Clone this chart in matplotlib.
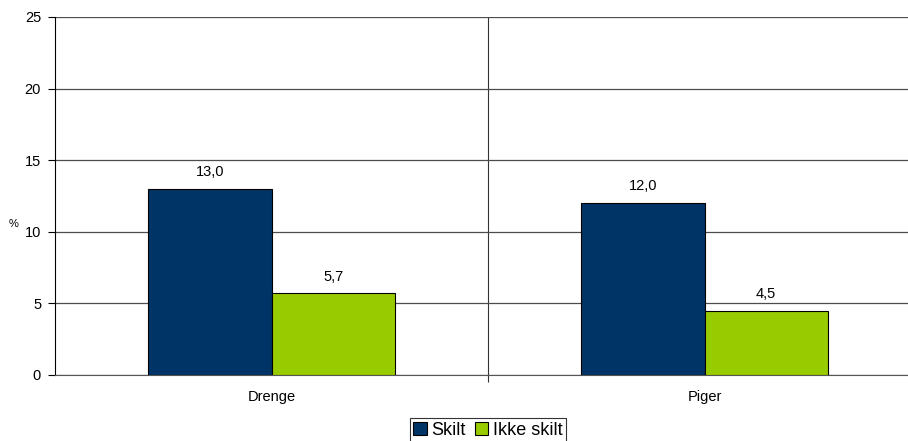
import matplotlib
matplotlib.use('Agg')
import matplotlib.pyplot as plt
import numpy as np

categories = ['Drenge', 'Piger']
series = ['Skilt', 'Ikke skilt']
skilt = [13.0, 12.0]
ikke_skilt = [5.7, 4.5]
colors = ['#003366', '#99cc00']

plt.rcParams['font.family'] = ['Liberation Sans', 'DejaVu Sans']

fig = plt.figure(figsize=(9.08, 4.41), dpi=100)
# plot area runs past the right edge, like the reference
ax = fig.add_axes([55 / 908, 66 / 441, 866 / 908, 358 / 441])

x = np.arange(len(categories))
w = 0.285
b1 = ax.bar(x - w / 2, skilt, w, color=colors[0], edgecolor='black', linewidth=0.8, label=series[0], zorder=3)
b2 = ax.bar(x + w / 2, ikke_skilt, w, color=colors[1], edgecolor='black', linewidth=0.8, label=series[1], zorder=3)

for bars in (b1, b2):
    for r in bars:
        h = r.get_height()
        ax.annotate(f'{h:.1f}'.replace('.', ','), (r.get_x() + r.get_width() / 2, h),
                    xytext=(0, 7), textcoords='offset points', ha='center', va='bottom', fontsize=10.5)

ax.set_xlim(-0.5, 1.5)
ax.set_ylim(0, 25)
ax.set_yticks(np.arange(0, 26, 5))
ax.yaxis.grid(True, color='#4d4d4d', linewidth=0.9, zorder=0)
ax.axvline(0.5, color='#333333', linewidth=0.8, zorder=1)

ax.set_xticks([0.5])
ax.set_xticklabels([])
ax.set_xticks(x, minor=True)
ax.set_xticklabels(categories, minor=True)
ax.tick_params(axis='x', which='minor', length=0, pad=11, labelsize=10.5)
ax.tick_params(axis='x', which='major', length=5, color='#333333')
ax.tick_params(axis='y', length=5, labelsize=10.5, pad=5)

for s in ['top', 'right']:
    ax.spines[s].set_visible(False)
ax.spines['left'].set_color('black')
ax.spines['bottom'].set_color('#555555')

fig.text(14 / 908, 1 - 224 / 441, '%', fontsize=8, ha='center', va='center')

leg = fig.legend(loc='upper center', bbox_to_anchor=(488 / 908, 1 - 418 / 441), ncol=2, fontsize=13,
                 frameon=True, fancybox=False, edgecolor='black', handlelength=0.75, handleheight=0.75,
                 handletextpad=0.25, columnspacing=0.5, borderpad=0.2, borderaxespad=0.0)
leg.get_frame().set_linewidth(0.8)

plt.savefig('out.png', dpi=100)
